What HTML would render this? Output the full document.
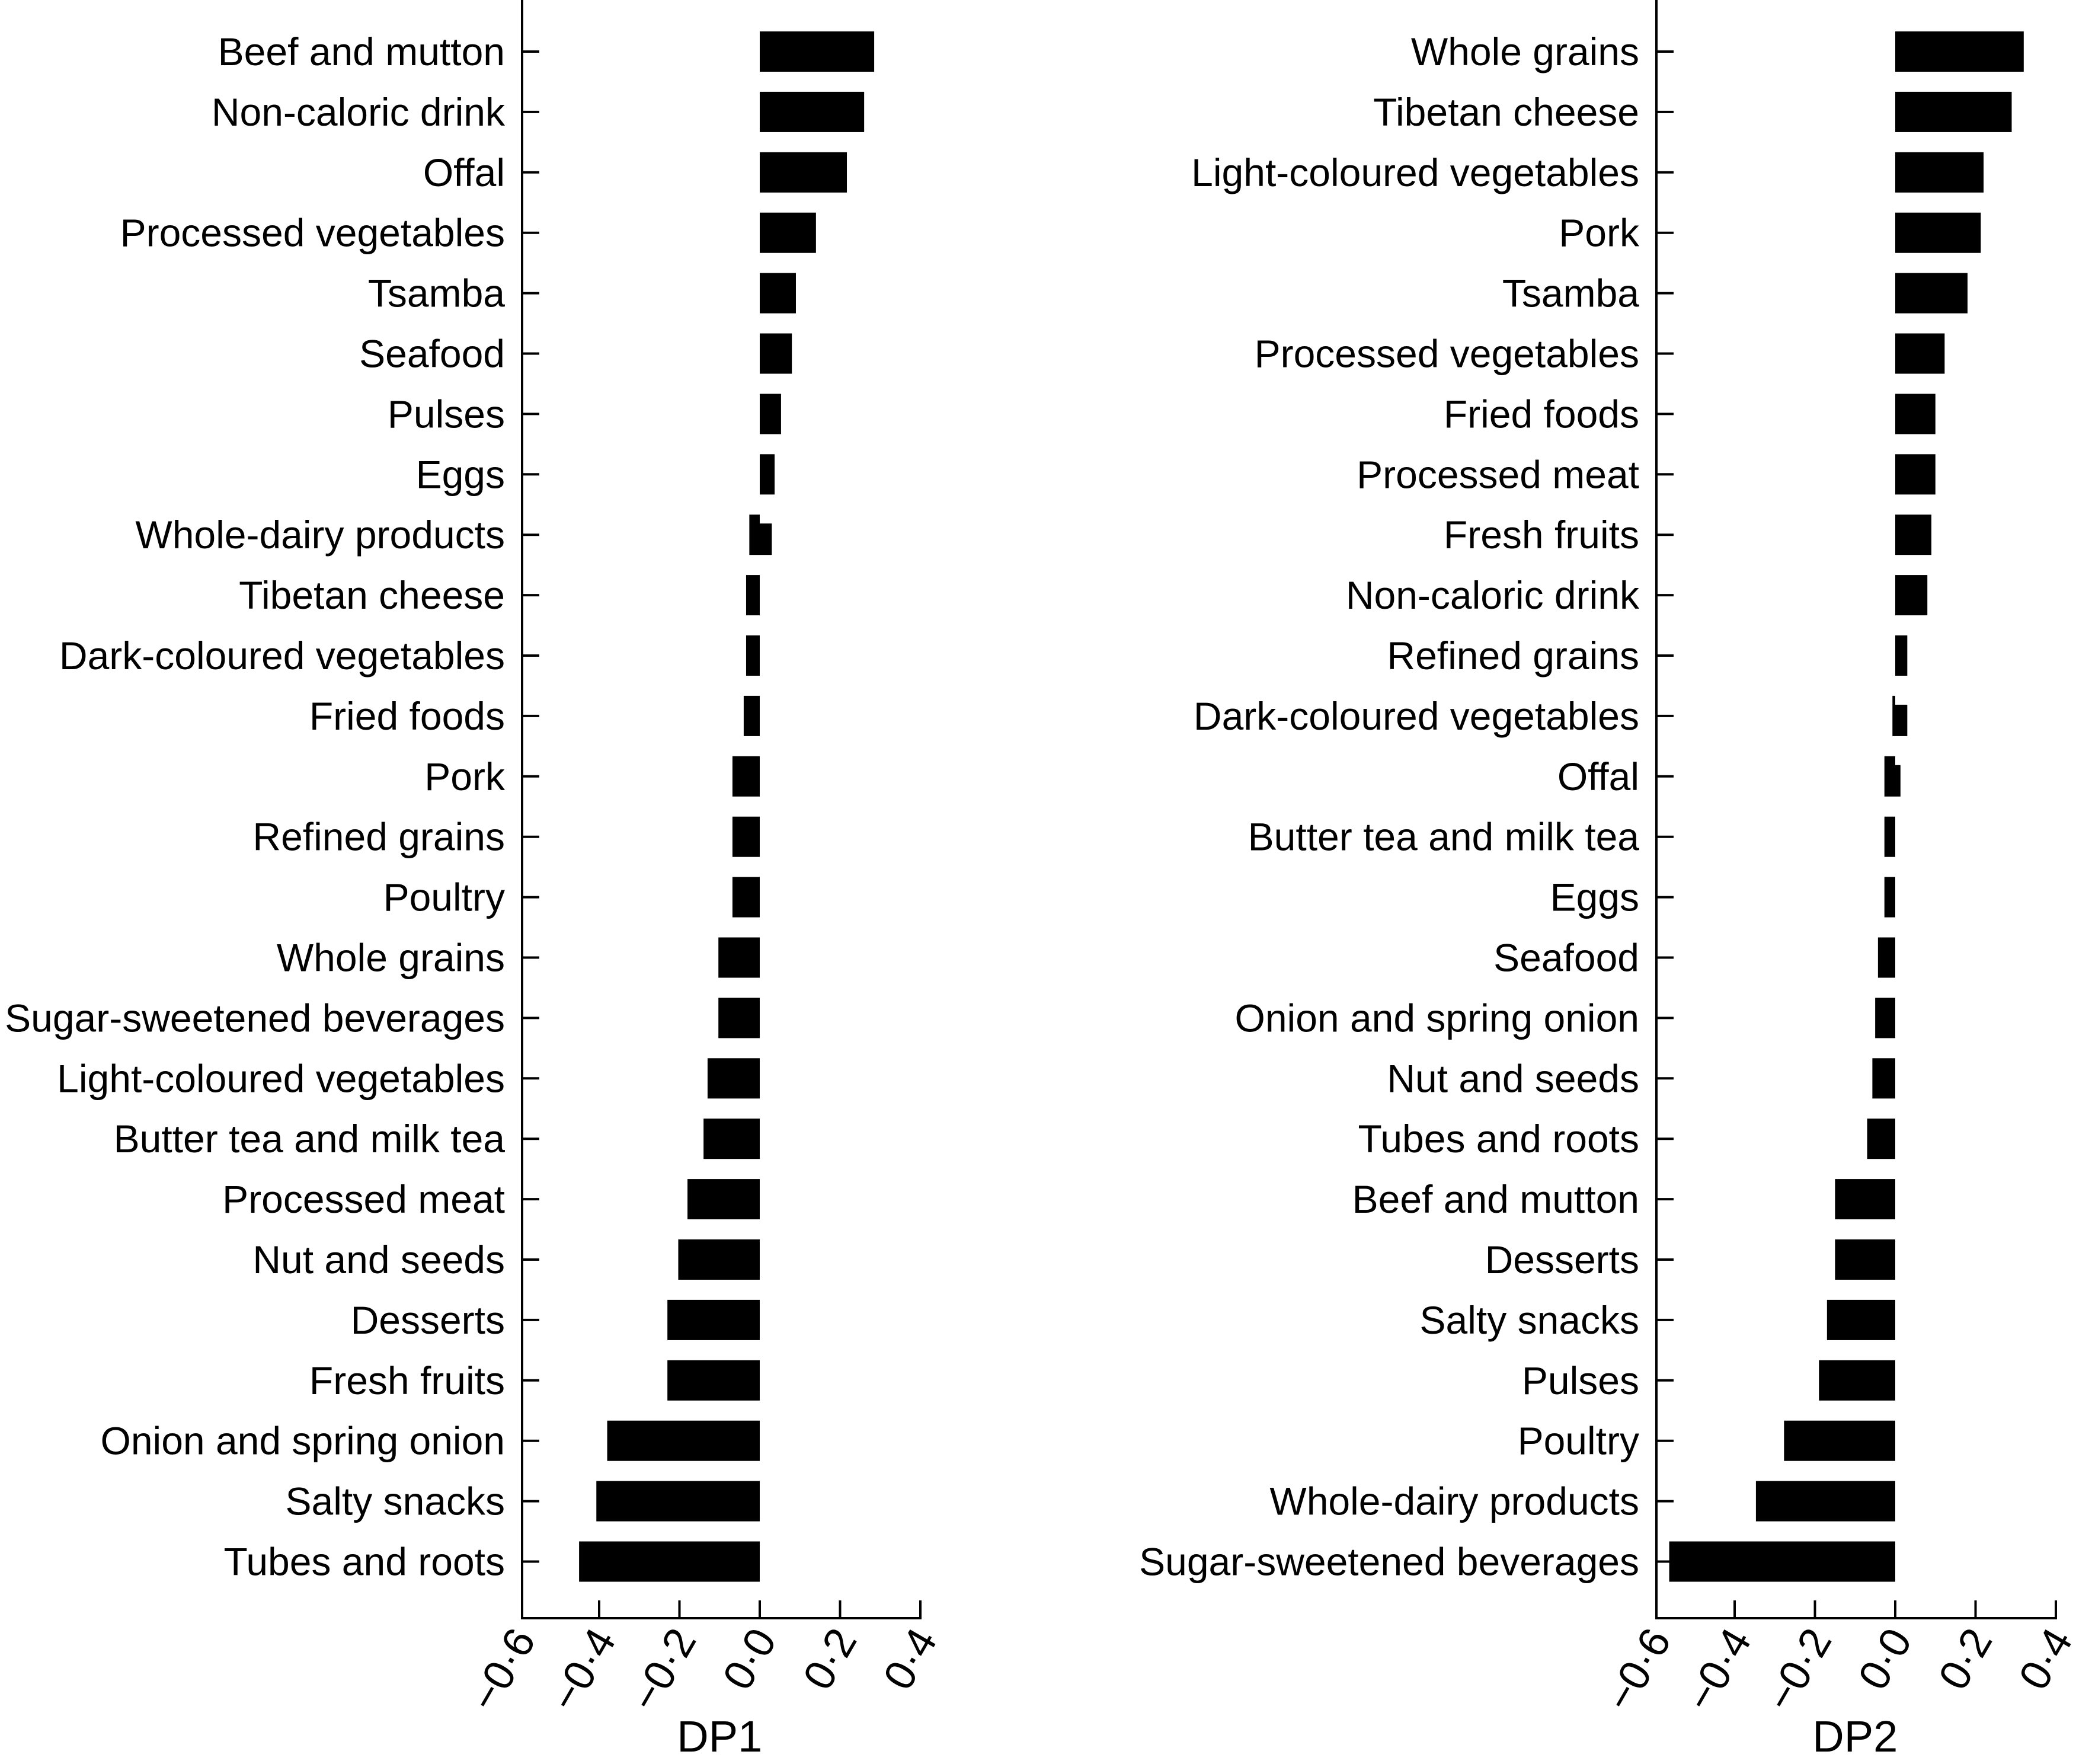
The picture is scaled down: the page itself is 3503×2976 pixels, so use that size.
<!DOCTYPE html>
<html><head><meta charset="utf-8"><style>
html,body{margin:0;padding:0;background:#fff;}
svg{display:block;font-family:"Liberation Sans",Arial,sans-serif;}
</style></head><body>
<svg id="chart" width="3503" height="2976" viewBox="0 0 3503 2976" xmlns="http://www.w3.org/2000/svg"></svg>
<script>
const dp1Categories = ["Beef and mutton","Non-caloric drink","Offal","Processed vegetables","Tsamba","Seafood","Pulses","Eggs","Whole-dairy products","Tibetan cheese","Dark-coloured vegetables","Fried foods","Pork","Refined grains","Poultry","Whole grains","Sugar-sweetened beverages","Light-coloured vegetables","Butter tea and milk tea","Processed meat","Nut and seeds","Desserts","Fresh fruits","Onion and spring onion","Salty snacks","Tubes and roots"];
const dp1Values = [0.285,0.26,0.217,0.14,0.09,0.08,0.053,0.037,-0.026,-0.034,-0.034,-0.04,-0.068,-0.068,-0.068,-0.103,-0.103,-0.13,-0.14,-0.18,-0.203,-0.23,-0.23,-0.38,-0.407,-0.45];
const dp1Secondary = [null,null,null,null,null,null,null,null,0.03,null,null,null,null,null,null,null,null,null,null,null,null,null,null,null,null,null];
const dp2Categories = ["Whole grains","Tibetan cheese","Light-coloured vegetables","Pork","Tsamba","Processed vegetables","Fried foods","Processed meat","Fresh fruits","Non-caloric drink","Refined grains","Dark-coloured vegetables","Offal","Butter tea and milk tea","Eggs","Seafood","Onion and spring onion","Nut and seeds","Tubes and roots","Beef and mutton","Desserts","Salty snacks","Pulses","Poultry","Whole-dairy products","Sugar-sweetened beverages"];
const dp2Values = [0.32,0.29,0.22,0.213,0.18,0.123,0.1,0.1,0.09,0.08,0.03,-0.007,-0.027,-0.027,-0.027,-0.043,-0.05,-0.057,-0.07,-0.15,-0.15,-0.17,-0.19,-0.277,-0.347,-0.563];
const dp2Secondary = [null,null,null,null,null,null,null,null,null,null,null,0.03,0.013,null,null,null,null,null,null,null,null,null,null,null,null,null];
const tickValues = [-0.6,-0.4,-0.2,0.0,0.2,0.4];
const tickLabels = ["\u22120\u00b76","\u22120\u00b74","\u22120\u00b72","0\u00b70","0\u00b72","0\u00b74"];

const NS = "http://www.w3.org/2000/svg";
const svg = document.getElementById("chart");
function mk(tag, attrs, parent){
  const e = document.createElementNS(NS, tag);
  for (const k in attrs) e.setAttribute(k, attrs[k]);
  (parent||svg).appendChild(e);
  return e;
}
const PX = 677.5, ROW0 = 87, ROWSTEP = 101.9, BARH = 68, AXISY = 2730;

function drawPanel(id, axisX, zeroX, cats, vals, sec, title){
  const g = mk("g", {});
  
  
  const xs = v => zeroX + v * PX;
  const ys = i => ROW0 + i * ROWSTEP;
  const ax = mk("line", {x1:axisX, y1:0, x2:axisX, y2:AXISY+2, stroke:"#000","stroke-width":4}, g);
  
  
  const bx = mk("line", {x1:axisX-2, y1:AXISY, x2:xs(0.4)+2, y2:AXISY, stroke:"#000","stroke-width":4}, g);
  
  
  cats.forEach((c, i) => {
    const y = ys(i);
    const t = mk("line", {x1:axisX, y1:y, x2:axisX+29, y2:y, stroke:"#000","stroke-width":4}, g);
    
    
    const lb = mk("text", {x:axisX-29, y:y+23, "text-anchor":"end","font-size":66, fill:"#000"}, g);
    lb.textContent = c;
    
    
    const v = vals[i];
    const r = mk("rect", {x:Math.min(xs(0), xs(v)), y:y-BARH/2, width:Math.abs(xs(v)-xs(0)), height:BARH, fill:"#000"}, g);
    
    
    if (sec[i] !== null) {
      const s = sec[i];
      const r2 = mk("rect", {x:Math.min(xs(0), xs(s)), y:y-BARH/2+15, width:Math.abs(xs(s)-xs(0)), height:BARH-15, fill:"#000"}, g);
      
      
    }
  });
  tickValues.forEach((tv, k) => {
    const x = xs(tv);
    if (k > 0) {
      const t = mk("line", {x1:x, y1:AXISY, x2:x, y2:AXISY-30, stroke:"#000","stroke-width":4}, g);
      
      
    }
    const lx = x + 30, ly = AXISY + 36;
    const tl = mk("text", {x:lx, y:ly, "text-anchor":"end","font-size":72, fill:"#000", transform:`rotate(-60 ${lx} ${ly})`}, g);
    tl.textContent = tickLabels[k];
    
    
  });
  const tt = mk("text", {x:(xs(-0.6)+xs(0.4))/2, y:2955, "text-anchor":"middle","font-size":74, fill:"#000"}, g);
  tt.textContent = title;
  
  
}
drawPanel("dp1", 881, 1282, dp1Categories, dp1Values, dp1Secondary, "DP1");
drawPanel("dp2", 2795, 3198, dp2Categories, dp2Values, dp2Secondary, "DP2");
</script>
</body></html>
